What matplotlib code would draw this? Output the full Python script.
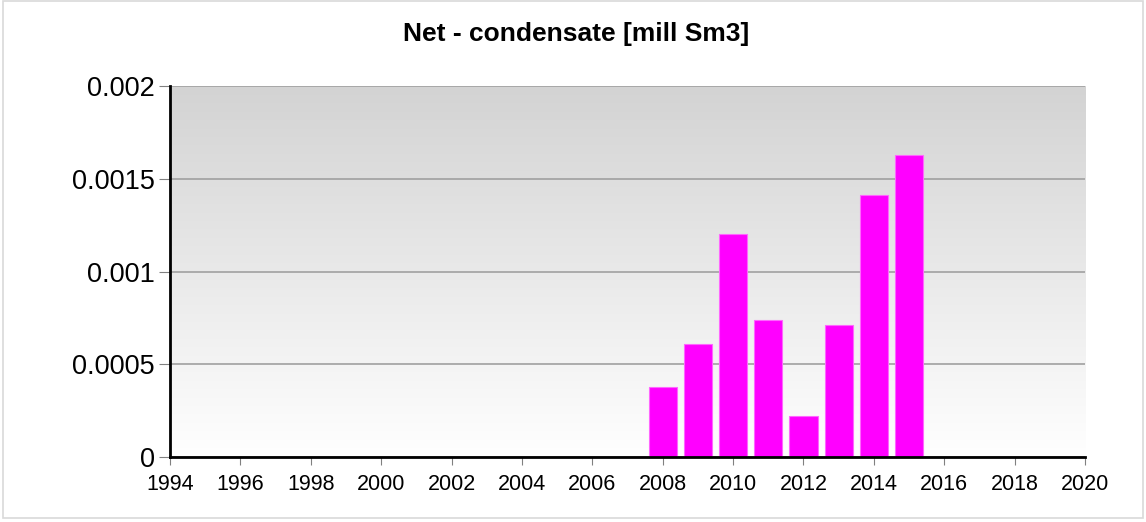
import numpy as np
import matplotlib.pyplot as plt
from matplotlib.patches import Rectangle

plt.rcParams['font.family'] = ['Liberation Sans', 'DejaVu Sans']

# datos
years = [2008, 2009, 2010, 2011, 2012, 2013, 2014, 2015]
values = [0.00038, 0.00061, 0.00120, 0.00074, 0.00022, 0.00071, 0.00141, 0.00163]
xticks = list(range(1994, 2021, 2))
yticks = [0, 0.0005, 0.001, 0.0015, 0.002]
yticklabels = ['0', '0.0005', '0.001', '0.0015', '0.002']

fig = plt.figure(figsize=(11.46, 5.22), dpi=100)
fig.patches.append(Rectangle((0.003, 0.008), 0.994, 0.99, transform=fig.transFigure,
                             fill=False, edgecolor='#d9d9d9', linewidth=1.2))

ax = fig.add_axes([0.1483, 0.1245, 0.7985, 0.7107])

# fondo degradado gris -> blanco
grad = np.linspace(0, 1, 256).reshape(-1, 1)
ax.imshow(grad, cmap=plt.cm.colors.LinearSegmentedColormap.from_list('g', ['#ffffff', '#d3d3d3']),
          extent=[0, 1, 0, 1], transform=ax.transAxes, aspect='auto', origin='lower', zorder=0)

ax.bar(years, values, width=0.8, color='#ff00ff', edgecolor='#ff66ff', linewidth=0.8, zorder=3)

ax.set_xlim(1994, 2020)
ax.set_ylim(0, 0.002)
ax.set_xticks(xticks)
ax.set_xticklabels([str(x) for x in xticks], fontsize=15.5)
ax.set_yticks(yticks)
ax.set_yticklabels(yticklabels, fontsize=19.5)

ax.yaxis.grid(True, color='#a0a0a0', linewidth=1.2, zorder=1)
ax.set_axisbelow(True)

for s in ['top', 'right']:
    ax.spines[s].set_visible(False)
ax.spines['left'].set_linewidth(2)
ax.spines['bottom'].set_linewidth(2)
ax.spines['left'].set_zorder(4)
ax.spines['bottom'].set_zorder(4)

ax.tick_params(axis='y', length=8, color='#808080', pad=3)
ax.tick_params(axis='x', length=6, color='#808080', pad=6)

fig.text(0.503, 0.935, 'Net - condensate [mill Sm3]', ha='center', va='center',
         fontsize=19, fontweight='bold')

fig.savefig('out.png', dpi=100)
